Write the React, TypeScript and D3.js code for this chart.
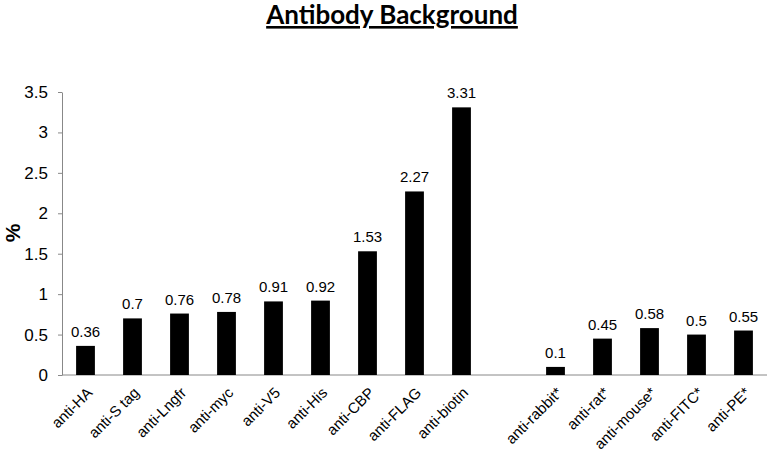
import React, { useRef, useEffect } from 'react';
import * as d3 from 'd3';

// Tag antibodies (left group) and secondary antibodies (right group)
const tagAntibodies = ['anti-HA', 'anti-S tag', 'anti-Lngfr', 'anti-myc', 'anti-V5', 'anti-His', 'anti-CBP', 'anti-FLAG', 'anti-biotin'];
const tagValues = [0.36, 0.7, 0.76, 0.78, 0.91, 0.92, 1.53, 2.27, 3.31];

const secondaryAntibodies = ['anti-rabbit*', 'anti-rat*', 'anti-mouse*', 'anti-FITC*', 'anti-PE*'];
const secondaryValues = [0.1, 0.45, 0.58, 0.5, 0.55];

const yTicks = [0, 0.5, 1, 1.5, 2, 2.5, 3, 3.5];
const GAP = '__gap__';

const width = 771;
const height = 457;
const FONT = '"Liberation Sans", Arial, sans-serif';

function AntibodyChart() {
  const svgRef = useRef<SVGSVGElement>(null);

  useEffect(() => {
    const svg = d3.select(svgRef.current);
    svg.selectAll('*').remove();

    const margin = { top: 92, right: 4, bottom: 82, left: 62 };
    const innerWidth = width - margin.left - margin.right;
    const innerHeight = height - margin.top - margin.bottom;

    const data = [
      ...tagAntibodies.map((name, i) => ({ name, value: tagValues[i] })),
      ...secondaryAntibodies.map((name, i) => ({ name, value: secondaryValues[i] }))
    ];
    const domain = [...tagAntibodies, GAP, ...secondaryAntibodies];

    const x = d3.scaleBand()
      .domain(domain)
      .range([0, innerWidth])
      .paddingInner(0.6)
      .paddingOuter(0.3);

    const y = d3.scaleLinear()
      .domain([0, 3.5])
      .range([innerHeight, 0]);

    svg.attr('width', width).attr('height', height);

    // Title
    svg.append('text')
      .attr('x', 392)
      .attr('y', 24)
      .attr('text-anchor', 'middle')
      .style('font-family', 'Lato, "Open Sans", sans-serif')
      .style('font-weight', 700)
      .style('font-size', '26px')
      .style('text-decoration', 'underline')
      .text('Antibody Background');

    const g = svg.append('g')
      .attr('transform', `translate(${margin.left},${margin.top})`);

    // Y axis
    const yAxis = g.append('g')
      .call(d3.axisLeft(y).tickValues(yTicks).tickSize(4).tickSizeOuter(0).tickFormat(d3.format('')));
    yAxis.select('.domain').attr('stroke', '#888');
    yAxis.selectAll('.tick line').attr('stroke', '#888');
    yAxis.selectAll('.tick text')
      .attr('x', -14)
      .style('font-family', FONT)
      .style('font-size', '17px')
      .attr('fill', '#000');

    // Y label
    svg.append('text')
      .attr('transform', 'translate(20,233) rotate(-90)')
      .attr('text-anchor', 'middle')
      .style('font-family', FONT)
      .style('font-weight', 700)
      .style('font-size', '21px')
      .text('%');

    // X axis line
    g.append('line')
      .attr('x1', 0)
      .attr('x2', innerWidth)
      .attr('y1', innerHeight)
      .attr('y2', innerHeight)
      .attr('stroke', '#888');

    // Bars
    g.selectAll('.bar')
      .data(data)
      .enter()
      .append('rect')
      .attr('class', 'bar')
      .attr('x', d => x(d.name) || 0)
      .attr('y', d => y(d.value))
      .attr('width', x.bandwidth())
      .attr('height', d => innerHeight - y(d.value))
      .attr('fill', '#000');

    // Value labels
    g.selectAll('.val')
      .data(data)
      .enter()
      .append('text')
      .attr('class', 'val')
      .attr('x', d => (x(d.name) || 0) + x.bandwidth() / 2)
      .attr('y', d => y(d.value) - 9)
      .attr('text-anchor', 'middle')
      .style('font-family', FONT)
      .style('font-size', '15px')
      .text(d => String(d.value));

    // Category labels, rotated
    g.selectAll('.cat')
      .data(data)
      .enter()
      .append('text')
      .attr('class', 'cat')
      .attr('transform', d => {
        const cx = (x(d.name) || 0) + x.bandwidth() / 2 + 4;
        return `translate(${cx},${innerHeight + 15}) rotate(-45)`;
      })
      .attr('text-anchor', 'end')
      .attr('dy', '0.35em')
      .style('font-family', FONT)
      .style('font-size', '15px')
      .text(d => d.name);
  }, []);

  return <svg ref={svgRef} style={{ display: 'block' }} />;
}

export default function App() {
  return (
    <div style={{ position: 'absolute', left: 0, top: 0, background: '#fff' }}>
      <AntibodyChart />
    </div>
  );
}
